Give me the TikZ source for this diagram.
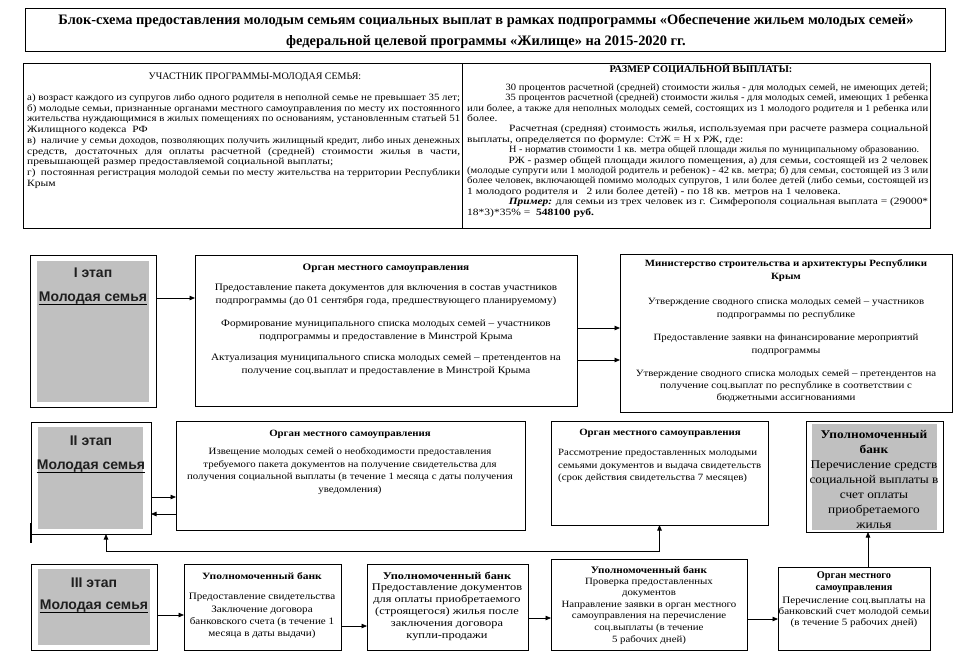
\documentclass[tikz,border=0pt]{standalone}
\usepackage{graphicx}
\usepackage{fontspec}
\setmainfont{Liberation Serif}
\newfontfamily\sansb{Liberation Sans}
\newfontfamily\wf[FakeStretch=1.13]{Liberation Serif}
\newfontfamily\wg[FakeStretch=1.2]{Liberation Serif}
\usetikzlibrary{arrows.meta}
\definecolor{stagegray}{RGB}{192,192,192}
\newsavebox\fitbox
\newcommand\fitto[2]{\sbox\fitbox{#2}\ifdim\wd\fitbox>#1\relax\resizebox{#1}{\height}{\usebox\fitbox}\else\makebox[#1][s]{#2}\fi}
\newcommand\lfull[1]{\fitto{433pt}{#1}}
\newcommand\rfull[1]{\fitto{461pt}{#1}}
\begin{document}
\begin{tikzpicture}[x=1pt,y=-1pt,
  frame/.style={draw=black,line width=1pt,anchor=north west,inner sep=0pt,outer sep=0pt,fill=white},
  shade/.style={fill=stagegray,draw=none,anchor=north west,inner sep=0pt,outer sep=0pt},
  stagetxt/.style={font=\sansb\bfseries\fontsize{14}{16}\selectfont,inner sep=0pt,text=black!88},
  body/.style={inner sep=0pt,align=center,font=\wf\fontsize{9.6}{12.7}\selectfont},
  head/.style={inner sep=0pt,align=center,font=\wf\bfseries\fontsize{9.6}{12.7}\selectfont},
  arr/.style={line width=0.8pt,-{Triangle[length=5.5pt,width=4.5pt]}},
  dbl/.style={line width=0.8pt,{Triangle[length=5.5pt,width=4.5pt]}-{Triangle[length=5.5pt,width=4.5pt]}},
  uline/.style={line width=1pt}
]
\fill[white] (0,0) rectangle (961,665);
\useasboundingbox (0,0) rectangle (961,665);

% title
\node[frame,minimum width=920,minimum height=43] (tbox) at (25,8) {};
\node[inner sep=0pt,align=center,font=\bfseries\fontsize{14.4}{21}\selectfont] (ttl) at (486,31.5)
 {Блок-схема предоставления молодым семьям социальных выплат в рамках подпрограммы «Обеспечение жильем молодых семей»\\
  федеральной целевой программы «Жилище» на 2015-2020 гг.};

% top info boxes
\node[frame,minimum width=439,minimum height=165] (lbox) at (23,63) {};
\node[frame,minimum width=468,minimum height=165] (rbox) at (462,63) {};
\node[inner sep=0pt,font=\fontsize{10}{11}\selectfont] (lhead) at (255,77) {УЧАСТНИК ПРОГРАММЫ-МОЛОДАЯ СЕМЬЯ:};
\node[anchor=north west,inner sep=0pt,align=left,font=\wg\fontsize{9.6}{10.7}\selectfont] (ltext) at (27,93.5)
 {\lfull{а) возраст каждого из супругов либо одного родителя в неполной семье не превышает 35 лет;}\\
  \lfull{б) молодые семьи, признанные органами местного самоуправления по месту их постоянного}\\
  \lfull{жительства нуждающимися в жилых помещениях по основаниям, установленным статьей 51}\\
  Жилищного кодекса~~РФ\\
  \lfull{в)~~наличие у семьи доходов, позволяющих получить жилищный кредит, либо иных денежных}\\
  \lfull{средств, достаточных для оплаты расчетной (средней) стоимости жилья в части,}\\
  превышающей размер предоставляемой социальной выплаты;\\
  \lfull{г)~~постоянная регистрация молодой семьи по месту жительства на территории Республики}\\
  Крым};
\node[inner sep=0pt,font=\bfseries\fontsize{10.3}{11}\selectfont] (rhead) at (701,69) {РАЗМЕР СОЦИАЛЬНОЙ ВЫПЛАТЫ:};
\node[anchor=north west,inner sep=0pt,align=left,font=\wg\fontsize{9.6}{10.4}\selectfont] (rtext) at (467,83.5)
 {\rfull{\hspace*{42pt}30 процентов расчетной (средней) стоимости жилья - для молодых семей, не имеющих детей;}\\
  \rfull{\hspace*{42pt}35 процентов расчетной (средней) стоимости жилья - для молодых семей, имеющих 1 ребенка}\\
  \rfull{или более, а также для неполных молодых семей, состоящих из 1 молодого родителя и 1 ребенка или}\\
  более.\\
  \rfull{\hspace*{42pt}Расчетная (средняя) стоимость жилья, используемая при расчете размера социальной}\\
  выплаты, определяется по формуле: СтЖ = Н х РЖ, где:\\
  \hspace*{42pt}\fitto{410pt}{Н - норматив стоимости 1 кв. метра общей площади жилья по муниципальному образованию.}\\
  \rfull{\hspace*{42pt}РЖ - размер общей площади жилого помещения, а) для семьи, состоящей из 2 человек}\\
  \rfull{(молодые супруги или 1 молодой родитель и ребенок) - 42 кв. метра; б) для семьи, состоящей из 3 или}\\
  \rfull{более человек, включающей помимо молодых супругов, 1 или более детей (либо семьи, состоящей из}\\
  1 молодого родителя и~~~2 или более детей) - по 18 кв. метров на 1 человека.\\
  \rfull{\hspace*{42pt}\textbf{\textit{Пример:}} для семьи из трех человек из г. Симферополя социальная выплата = (29000*}\\
  18*3)*35\% = ~\textbf{548100 руб.}};

% ---- stage I row
\node[frame,minimum width=126,minimum height=152] (s1) at (30,255) {};
\node[shade,minimum width=112,minimum height=141] (s1g) at (37,261) {};
\node[stagetxt] (s1a) at (93,273) {I этап};
\node[stagetxt] (s1b) at (93,298) {Молодая семья};
\draw[uline] ([yshift=-3pt]s1b.base west) -- ([yshift=-3pt]s1b.base east);

\node[frame,minimum width=382,minimum height=151] (o1) at (195,255) {};
\node[head,font=\wf\bfseries\fontsize{9.9}{12.7}\selectfont] (o1h) at (386,268) {Орган местного самоуправления};
\node[body,font=\wf\fontsize{9.9}{12.7}\selectfont] (o1p1) at (386,295) {Предоставление пакета документов для включения в состав участников\\ подпрограммы (до 01 сентября года, предшествующего планируемому)};
\node[body,font=\wf\fontsize{9.9}{12.7}\selectfont] (o1p2) at (386,331) {Формирование муниципального списка молодых семей – участников\\ подпрограммы и предоставление в Минстрой Крыма};
\node[body,font=\wf\fontsize{9.9}{12.7}\selectfont] (o1p3) at (386,365) {Актуализация муниципального списка молодых семей – претендентов на\\ получение соц.выплат и предоставление в Минстрой Крыма};

\node[frame,minimum width=332,minimum height=158] (mn) at (620,254) {};
\node[head] (mnh) at (786,270.5) {Министерство строительства и архитектуры Республики\\ Крым};
\node[body] (mnp1) at (786,309) {Утверждение сводного списка молодых семей – участников\\ подпрограммы по республике};
\node[body] (mnp2) at (786,345) {Предоставление заявки на финансирование мероприятий\\ подпрограммы};
\node[body,font=\wf\fontsize{9.6}{11.8}\selectfont] (mnp3) at (786,386) {Утверждение сводного списка молодых семей – претендентов на\\ получение соц.выплат по республике в соответствии с\\ бюджетными ассигнованиями};

% ---- stage II row
\node[frame,minimum width=120,minimum height=112] (s2) at (31,422) {};
\node[shade,minimum width=105,minimum height=102] (s2g) at (38,427) {};
\node[stagetxt] (s2a) at (91,441) {II этап};
\node[stagetxt] (s2b) at (91,466) {Молодая семья};
\draw[uline] ([yshift=-3pt]s2b.base west) -- ([yshift=-3pt]s2b.base east);
\draw[line width=1.5pt] ([yshift=11pt]s2.south west) -- ([yshift=-9pt]s2.south west);

\node[frame,minimum width=349,minimum height=109] (o2) at (176,421) {};
\node[head] (o2h) at (350,434) {Орган местного самоуправления};
\node[body] (o2p) at (350,471) {Извещение молодых семей о необходимости предоставления\\ требуемого пакета документов на получение свидетельства для\\ получения социальной выплаты (в течение 1 месяца с даты получения\\ уведомления)};

\node[frame,minimum width=217,minimum height=104] (o3) at (551,421) {};
\node[head] (o3h) at (660,433) {Орган местного самоуправления};
\node[body,align=left,anchor=west] (o3p) at (558,466) {Рассмотрение предоставленных молодыми\\ семьями документов и выдача свидетельств\\ (срок действия свидетельства 7 месяцев)};

\node[frame,minimum width=137,minimum height=111] (bk) at (806,421) {};
\node[shade,minimum width=125,minimum height=106] (bkg) at (812,424) {};
\node[inner sep=0pt,align=center,font=\wf\bfseries\fontsize{11.8}{14.5}\selectfont] (bkh) at (874,442) {Уполномоченный\\ банк};
\node[inner sep=0pt,align=center,font=\wf\fontsize{11.8}{15}\selectfont] (bkp) at (874,495) {Перечисление средств\\ социальной выплаты в\\ счет оплаты\\ приобретаемого\\ жилья};

% ---- stage III row
\node[frame,minimum width=126,minimum height=86] (s3) at (31,564) {};
\node[shade,minimum width=112,minimum height=76] (s3g) at (38,569) {};
\node[stagetxt] (s3a) at (94,583) {III этап};
\node[stagetxt] (s3b) at (94,606) {Молодая семья};
\draw[uline] ([yshift=-3pt]s3b.base west) -- ([yshift=-3pt]s3b.base east);

\node[frame,minimum width=157,minimum height=86] (b1) at (184,564) {};
\node[head,font=\wg\bfseries\fontsize{9.6}{12.7}\selectfont] (b1h) at (262,576) {Уполномоченный банк};
\node[body,font=\wf\fontsize{9.8}{12.2}\selectfont] (b1p) at (262,616) {Предоставление свидетельства\\ Заключение договора\\ банковского счета (в течение 1\\ месяца в даты выдачи)};

\node[frame,minimum width=161,minimum height=86] (b2) at (367,564) {};
\node[head,font=\wg\bfseries\fontsize{10.3}{12.7}\selectfont] (b2h) at (447,576) {Уполномоченный банк};
\node[body,font=\wg\fontsize{10.3}{12}\selectfont] (b2p) at (447,612.5) {Предоставление документов\\ для оплаты приобретаемого\\ (строящегося) жилья после\\ заключения договора\\ купли-продажи};

\node[frame,minimum width=196,minimum height=91] (b3) at (551,559) {};
\node[head,font=\wf\bfseries\fontsize{9.9}{12}\selectfont] (b3h) at (649,570) {Уполномоченный банк};
\node[body,font=\wf\fontsize{9.6}{11.6}\selectfont] (b3p) at (649,611) {Проверка предоставленных\\ документов\\ Направление заявки в орган местного\\ самоуправления на перечисление\\ соц.выплаты (в течение\\ 5 рабочих дней)};

\node[frame,minimum width=152,minimum height=83] (o4) at (778,567) {};
\node[head,font=\bfseries\fontsize{10.3}{12.5}\selectfont] (o4h) at (854,582) {Орган местного\\ самоуправления};
\node[body,font=\wf\fontsize{9.8}{11}\selectfont] (o4p) at (854,612) {Перечисление соц.выплаты на\\ банковский счет молодой семьи\\ (в течение 5 рабочих дней)};

% ---- connectors
\draw[arr] (s1.east |- s1b) -- (o1.west |- s1b);
\draw[arr] ([yshift=2.5pt]o1.east) -- ([yshift=2.5pt]o1.east -| mn.west);
\draw[arr] ([yshift=-29.5pt]o1.east) -- ([yshift=-29.5pt]o1.east -| mn.west);
\draw[arr] ([yshift=-19pt]s2.east) -- ([yshift=-19pt]s2.east -| o2.west);
\draw[arr] ([yshift=-36pt]s2.east -| o2.west) -- ([yshift=-36pt]s2.east);
\draw[dbl] ([xshift=15pt]s2.south) -- ++(0,17) -| (o3.south);
\draw[arr] ([yshift=-8pt]s3.east) -- ([yshift=-8pt]s3.east -| b1.west);
\draw[arr] ([yshift=-19pt]b1.east) -- ([yshift=-19pt]b1.east -| b2.west);
\draw[arr] ([yshift=-11pt]b2.east) -- ([yshift=-11pt]b2.east -| b3.west);
\draw[arr] ([yshift=-14.5pt]b3.east) -- ([yshift=-14.5pt]b3.east -| o4.west);
\draw[arr] ([xshift=14pt]o4.north) -- ([xshift=14pt]o4.north |- bk.south);
\end{tikzpicture}
\end{document}
